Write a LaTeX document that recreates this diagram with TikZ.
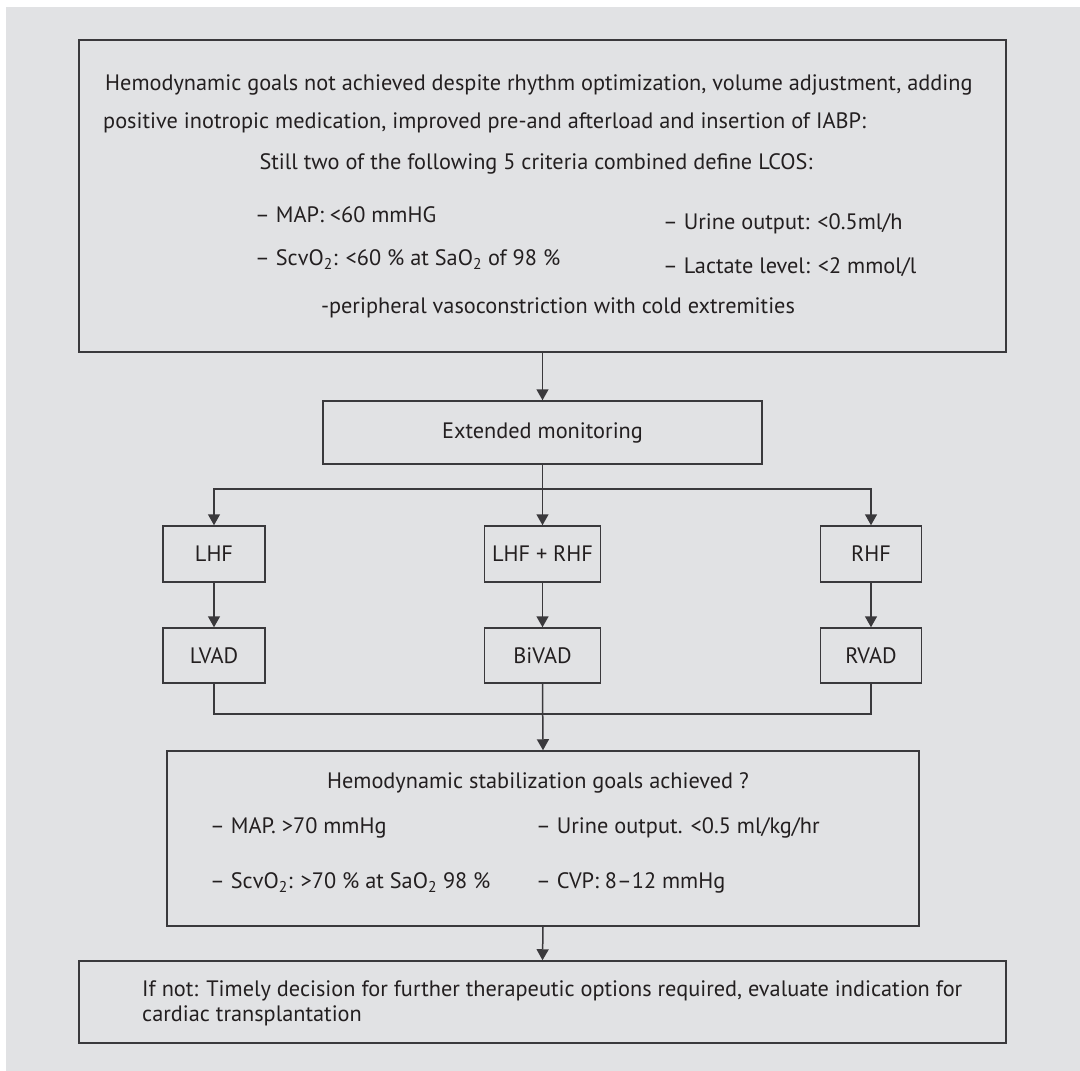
\documentclass[tikz,border=0pt]{standalone}
\usepackage{fontspec}
\setmainfont{PT Sans}
\usetikzlibrary{arrows.meta}
\definecolor{panel}{HTML}{E1E2E4}
\definecolor{edge}{HTML}{3A393C}
\definecolor{ink}{HTML}{231F20}

\begin{document}
\begin{tikzpicture}[x=1pt,y=-1pt,
  box/.style={draw=edge, line width=1.5pt, fill=panel, inner sep=0pt},
  conn/.style={draw=edge, line width=1.5pt},
  arr/.style={conn, -{Triangle[length=11pt,width=12pt]}},
  txt/.style={text=ink, font=\fontsize{22.3}{26}\selectfont, inner sep=0pt},
  lbl/.style={box, text=ink, font=\fontsize{22.3}{26}\selectfont}
]
\useasboundingbox (0,0) rectangle (1080,1071);
\fill[white] (0,0) rectangle (1080,1071);
\fill[panel] (6,7) rectangle (1080,1071);

% criteria box
\node[box, minimum width=927, minimum height=312] (top) at (542.5,196) {};
\node[txt, anchor=west] (t1) at (105,85) {Hemodynamic goals not achieved despite rhythm optimization, volume adjustment, adding};
\node[txt, anchor=west] (t2) at (103,123) {positive inotropic medication, improved pre-and afterload and insertion of IABP:};
\node[txt] (t3) at (536,164) {Still two of the following 5 criteria combined define LCOS:};
\node[txt, anchor=west] (t4) at (255,215) {– MAP: <60 mmHG};
\node[txt, anchor=west] (t5) at (255,260) {– ScvO\textsubscript{2}: <60 \% at SaO\textsubscript{2} of 98 \%};
\node[txt, anchor=west] (t6) at (663,224) {– Urine output: <0.5ml/h};
\node[txt, anchor=west] (t7) at (663,267) {– Lactate level: <2 mmol/l};
\node[txt] (t8) at (558,308) {-peripheral vasoconstriction with cold extremities};

% monitoring
\node[lbl, minimum width=439, minimum height=63] (ext) at (542.5,432.5) {Extended monitoring};

% failure type
\node[lbl, minimum width=102, minimum height=56] (lhf) at (214,554) {LHF};
\node[lbl, minimum width=116, minimum height=56] (both) at (542.5,554) {LHF + RHF};
\node[lbl, minimum width=101, minimum height=56] (rhf) at (871,554) {RHF};

% device
\node[lbl, minimum width=102, minimum height=55] (lvad) at (214,655.5) {LVAD};
\node[lbl, minimum width=116, minimum height=55] (bivad) at (542.5,655.5) {BiVAD};
\node[lbl, minimum width=101, minimum height=55] (rvad) at (871,655.5) {RVAD};

% stabilization goals
\node[box, minimum width=752, minimum height=175] (hemo) at (543,838.5) {};
\node[txt] (h1) at (538,783) {Hemodynamic stabilization goals achieved ?};
\node[txt, anchor=west] (h2) at (210,828) {– MAP. >70 mmHg};
\node[txt, anchor=west] (h3) at (536,828) {– Urine output. <0.5 ml/kg/hr};
\node[txt, anchor=west] (h4) at (210,883) {– ScvO\textsubscript{2}: >70 \% at SaO\textsubscript{2} 98 \%};
\node[txt, anchor=west] (h5) at (536,883) {– CVP: 8–12 mmHg};

% final decision
\node[box, minimum width=927, minimum height=82] (final) at (542.5,1002) {};
\node[txt, anchor=west] (f1) at (142,991) {If not: Timely decision for further therapeutic options required, evaluate indication for};
\node[txt, anchor=west] (f2) at (142,1016) {cardiac transplantation};

% connectors
\coordinate (split) at (542.5,489);
\coordinate (join) at (542.5,714);
\draw[arr] (top.south) -- (ext.north);
\draw[conn] (ext.south) -- (split);
\draw[arr] (split) -| (lhf.north);
\draw[arr] (split) -- (both.north);
\draw[arr] (split) -| (rhf.north);
\draw[arr] (lhf.south) -- (lvad.north);
\draw[arr] (both.south) -- (bivad.north);
\draw[arr] (rhf.south) -- (rvad.north);
\draw[conn] (lvad.south) |- (join);
\draw[conn] (rvad.south) |- (join);
\draw[arr] (bivad.south) -- (hemo.north);
\draw[arr] (hemo.south) -- (final.north);
\end{tikzpicture}
\end{document}
